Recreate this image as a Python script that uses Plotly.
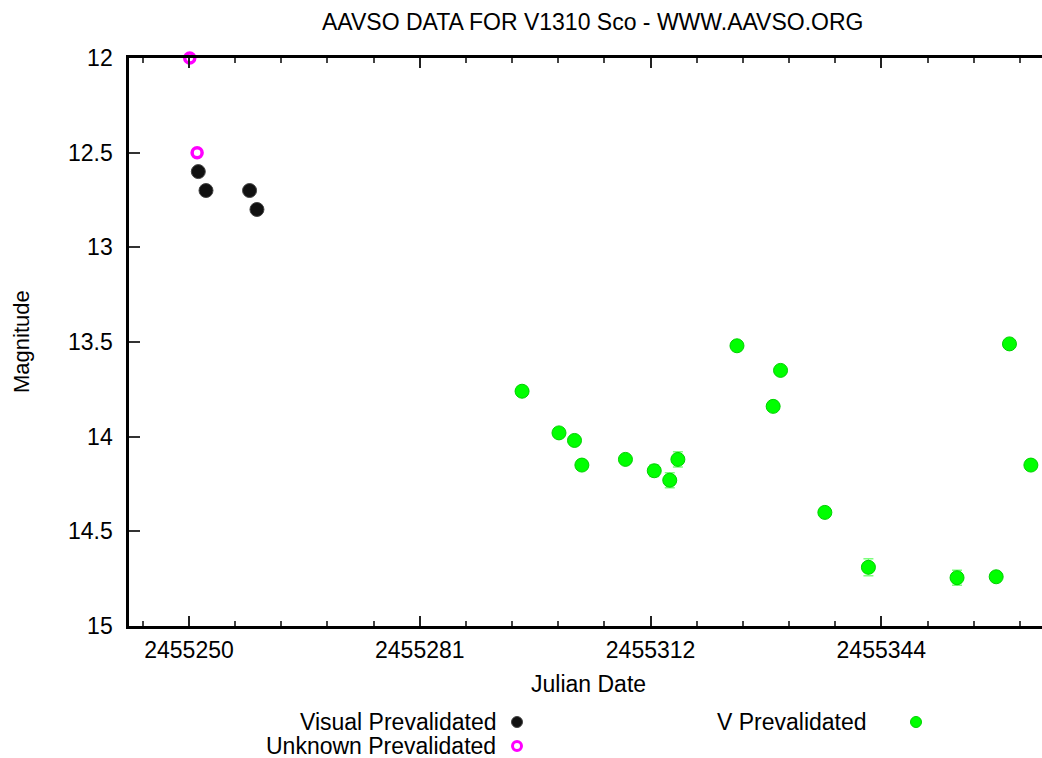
import plotly.graph_objects as go

# ---------------- data ----------------
visual_jd = [2455251.26, 2455252.3, 2455258.2, 2455259.2]
visual_mag = [12.6, 12.7, 12.7, 12.8]

unknown_jd = [2455250.1, 2455251.1]
unknown_mag = [12.0, 12.5]

v_jd = [2455295.1, 2455300.1, 2455302.2, 2455303.2, 2455309.1, 2455313.0,
        2455315.1, 2455316.2, 2455324.2, 2455329.1, 2455330.1, 2455336.1,
        2455342.0, 2455354.0, 2455359.3, 2455361.1, 2455364.0]
v_mag = [13.76, 13.98, 14.02, 14.15, 14.12, 14.18,
         14.23, 14.12, 13.52, 13.84, 13.65, 14.40,
         14.69, 14.745, 14.74, 13.51, 14.15]
v_err = [0.02, 0.02, 0.02, 0.02, 0.02, 0.03,
         0.04, 0.04, 0.02, 0.02, 0.02, 0.02,
         0.045, 0.04, 0.02, 0.02, 0.02]

x_tickvals = [2455250, 2455281.25, 2455312.5, 2455343.75]
x_ticktext = ["2455250", "2455281", "2455312", "2455344"]
y_tickvals = [12, 12.5, 13, 13.5, 14, 14.5, 15]
y_ticktext = ["12", "12.5", "13", "13.5", "14", "14.5", "15"]

legend_names = ["Visual Prevalidated", "Unknown Prevalidated", "V Prevalidated"]

# ---------------- figure ----------------
W, H = 1042, 758
FONT = "Liberation Sans, Arial, sans-serif"

def px(x):
    return x / W

def py(y):
    return 1 - y / H

fig = go.Figure()

fig.add_trace(go.Scatter(
    x=v_jd, y=v_mag, mode="markers", name=legend_names[2],
    error_y=dict(type="data", array=v_err, visible=True, color="#7dff7d",
                 thickness=1.5, width=5),
    marker=dict(symbol="circle", size=14, color="#00ff00",
                line=dict(color="#00d000", width=1)),
    xaxis="x", yaxis="y", showlegend=False))

fig.add_trace(go.Scatter(
    x=visual_jd, y=visual_mag, mode="markers", name=legend_names[0],
    marker=dict(symbol="circle", size=14, color="#111111",
                line=dict(color="#444444", width=1)),
    xaxis="x", yaxis="y", showlegend=False))

fig.add_trace(go.Scatter(
    x=unknown_jd, y=unknown_mag, mode="markers", name=legend_names[1],
    marker=dict(symbol="circle-open", size=10, color="#ff00ff",
                line=dict(color="#ff00ff", width=3.5)),
    xaxis="x", yaxis="y", showlegend=False, cliponaxis=False))

# ---- manual legend (text left of symbol, as in the reference) ----
leg_x = [px(517), px(517), px(916)]
leg_y = [py(722), py(746), py(722)]
leg_marker = [
    dict(symbol="circle", size=11, color="#111111", line=dict(color="#444444", width=1)),
    dict(symbol="circle-open", size=9, color="#ff00ff", line=dict(color="#ff00ff", width=3)),
    dict(symbol="circle", size=11, color="#00ff00", line=dict(color="#00d000", width=1)),
]
for i in range(3):
    fig.add_trace(go.Scatter(x=[leg_x[i]], y=[leg_y[i]], mode="markers",
                             marker=leg_marker[i], xaxis="x2", yaxis="y2",
                             showlegend=False, hoverinfo="skip"))

leg_text_x = [px(498), px(498), px(869)]
annotations = []
for i in range(3):
    annotations.append(dict(text=legend_names[i], x=leg_text_x[i], y=leg_y[i],
                            xref="paper", yref="paper", xanchor="right", yanchor="middle",
                            showarrow=False, font=dict(family=FONT, size=23, color="black")))

annotations += [
    dict(text="AAVSO DATA FOR V1310 Sco - WWW.AAVSO.ORG", x=px(592), y=py(22),
         xref="paper", yref="paper", xanchor="center", yanchor="middle",
         showarrow=False, font=dict(family=FONT, size=23, color="black")),
    dict(text="Julian Date", x=px(588), y=py(684),
         xref="paper", yref="paper", xanchor="center", yanchor="middle",
         showarrow=False, font=dict(family=FONT, size=23, color="black")),
    dict(text="Magnitude", x=px(21), y=py(342), textangle=-90,
         xref="paper", yref="paper", xanchor="center", yanchor="middle",
         showarrow=False, font=dict(family=FONT, size=22, color="black")),
]

x_left = 2455250 - (189 - 129.3) / 7.385
x_right = 2455250 + (W - 189) / 7.385

fig.update_layout(
    width=W, height=H, autosize=False,
    margin=dict(l=0, r=0, t=0, b=0, pad=0, autoexpand=False),
    paper_bgcolor="white", plot_bgcolor="rgba(0,0,0,0)",
    showlegend=False,
    annotations=annotations,
    xaxis=dict(
        domain=[px(129.3), 1], range=[x_left, x_right],
        tickvals=x_tickvals, ticktext=x_ticktext,
        ticks="inside", ticklen=10, tickwidth=2, tickcolor="#222222",
        minor=dict(tick0=2455250, dtick=6.25, ticks="inside", ticklen=5,
                   tickwidth=2, tickcolor="#444444", showgrid=False),
        showline=True, linecolor="black", linewidth=3, mirror="ticks",
        showgrid=False, zeroline=False,
        tickfont=dict(family=FONT, size=23, color="black"),
        ticklabelstandoff=1, anchor="y",
    ),
    yaxis=dict(
        domain=[py(626), py(58)], range=[15, 12],
        tickvals=y_tickvals, ticktext=y_ticktext,
        ticks="inside", ticklen=11, tickwidth=2, tickcolor="#333333",
        showline=True, linecolor="black", linewidth=3, mirror=False,
        showgrid=False, zeroline=False,
        tickfont=dict(family=FONT, size=23, color="black"),
        ticklabelstandoff=9, anchor="x",
    ),
    xaxis2=dict(domain=[0, 1], range=[0, 1], visible=False, fixedrange=True, anchor="y2"),
    yaxis2=dict(domain=[0, 1], range=[0, 1], visible=False, fixedrange=True, anchor="x2"),
)

fig.write_html("out.html")
